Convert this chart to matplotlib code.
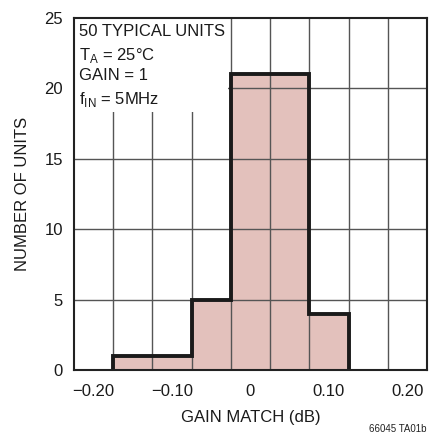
import matplotlib
matplotlib.use("Agg")
import matplotlib.pyplot as plt
import numpy as np

# histogram bins (0.05 dB wide) and counts
BIN_EDGES = [-0.175, -0.125, -0.075, -0.025, 0.025, 0.075, 0.125]
COUNTS = [1, 1, 5, 21, 21, 4]
XTICKS = [-0.20, -0.10, 0, 0.10, 0.20]
XTICK_LABELS = ["\u22120.20", "\u22120.10", "0", "0.10", "0.20"]
YTICKS = [0, 5, 10, 15, 20, 25]

FONT = ["Liberation Sans", "DejaVu Sans"]
plt.rcParams["font.family"] = FONT

fig = plt.figure(figsize=(4.29, 4.36), dpi=100)
ax = fig.add_axes([74 / 429, 1 - 370 / 436, (427 - 74) / 429, (370 - 18) / 436])

left = np.array(BIN_EDGES[:-1])
widths = np.diff(BIN_EDGES)
ax.bar(left, COUNTS, width=widths, align="edge", color="#e3c1bc", edgecolor="none", zorder=1)

# grid lines on top of the fill
for gx in np.arange(-0.175, 0.2, 0.05):
    ax.axvline(gx, color="#555555", lw=1.0, zorder=2)
for gy in YTICKS[1:-1]:
    ax.axhline(gy, color="#555555", lw=1.0, zorder=2)

# thick outline of the histogram
sx = [BIN_EDGES[0]] + [e for e in BIN_EDGES for _ in (0, 1)][1:-1] + [BIN_EDGES[-1]]
sy = [0] + [c for c in COUNTS for _ in (0, 1)] + [0]
ax.plot(sx, sy, color="#1a1a1a", lw=2.8, solid_joinstyle="miter", zorder=4)

ax.set_xlim(-0.225, 0.225)
ax.set_ylim(0, 25)
ax.set_xticks(XTICKS)
ax.set_xticklabels(XTICK_LABELS)
ax.set_yticks(YTICKS)
ax.tick_params(length=0, labelsize=12, colors="#1a1a1a")
ax.tick_params(axis="x", pad=10)
ax.tick_params(axis="y", pad=8)
for s in ax.spines.values():
    s.set_linewidth(1.5)
    s.set_color("#222222")
    s.set_zorder(5)

# white label box over the upper-left grid
ax.add_patch(plt.Rectangle((-0.225, 18.3), 0.196, 6.7, facecolor="white",
                           edgecolor="none", zorder=3))
lines = ["50 TYPICAL UNITS", "T$_\\mathregular{A}$ = 25°C", "GAIN = 1",
         "f$_\\mathregular{IN}$ = 5MHz"]
for i, t in enumerate(lines):
    ax.text(-0.218, 24.55 - i * 1.55, t, fontsize=12, va="top", ha="left",
            color="#1a1a1a", zorder=6)

ax.set_xlabel("GAIN MATCH (dB)", fontsize=12, labelpad=8, color="#1a1a1a")
ax.set_ylabel("NUMBER OF UNITS", fontsize=12, labelpad=10, color="#1a1a1a")
fig.text(0.995, 0.004, "66045 TA01b", fontsize=7, ha="right", va="bottom", color="#222222")

fig.savefig("out.png", dpi=100)
